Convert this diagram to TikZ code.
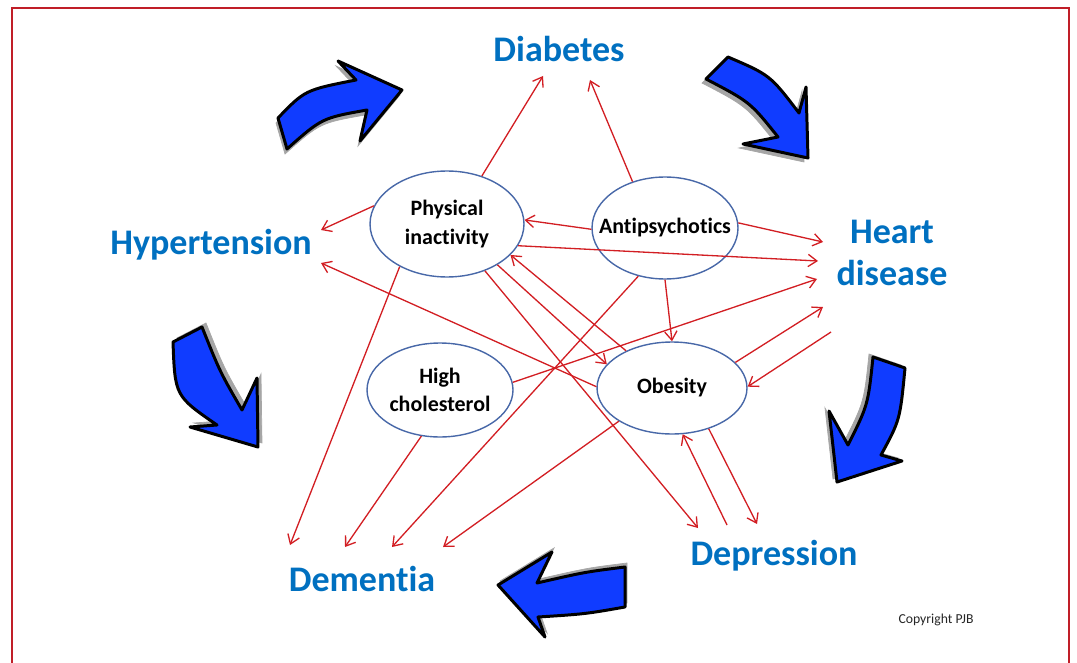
\documentclass[tikz,border=0pt]{standalone}
\usepackage{fontspec}
\setmainfont{Carlito}[Ligatures=NoCommon]
\usepackage{tikz}
\usetikzlibrary{arrows.meta}
\usetikzlibrary{shapes}
\usetikzlibrary{calc}
\definecolor{labelblue}{RGB}{0,112,192}
\definecolor{linkred}{RGB}{210,30,35}
\definecolor{ringblue}{RGB}{72,104,168}
\definecolor{bigblue}{RGB}{16,60,255}
\definecolor{framered}{RGB}{192,30,40}

\begin{document}
\begin{tikzpicture}[x=0.02cm, y=-0.02cm,
    outcome/.style={text=labelblue, font=\bfseries\fontsize{20.5}{24}\selectfont, inner sep=0pt},
    factor/.style={ellipse, draw=ringblue, line width=0.8pt, font=\bfseries\fontsize{12.5}{16}\selectfont, align=center, inner sep=0pt},
    link/.style={draw=linkred, line width=0.75pt, -{Straight Barb[length=5pt,width=7pt]}},
    bigarrow/.style={fill=bigblue, draw=black, line width=1.7pt, line join=round,
      preaction={fill=black!35, draw=black!35, transform canvas={shift={#1}}}}]
              \useasboundingbox (0,0) rectangle (1077,662);
              \draw[framered, line width=0.8pt] (12,8) rectangle (1069,690);
              \node[outcome, anchor=base] (diab) at (559,62) {Diabetes};
              \node[outcome, anchor=base] (hyper) at (211,254) {Hypertension};
              \node[outcome, align=center] (heart) at (892,253) {Heart\\disease};
              \node[outcome, anchor=base] (depr) at (774,565) {Depression};
              \node[outcome, anchor=base] (dem) at (362,591) {Dementia};
              \node[anchor=base, font=\fontsize{7.8}{9}\selectfont, text=black!85] (copy) at (936,623) {Copyright PJB};
              \node[factor, minimum width=3.08cm, minimum height=2.12cm] (pi) at (447,224) {Physical\\inactivity};
              \node[factor, minimum width=2.92cm, minimum height=2.04cm] (ap) at (665,228) {\makebox[0pt]{Antipsychotics}};
              \node[factor, minimum width=2.92cm, minimum height=1.88cm] (hc) at (440,390) {High\\cholesterol};
              \node[factor, minimum width=3.0cm, minimum height=1.84cm] (ob) at (672,388) {Obesity};
              \draw[link] (pi.54) -- ($(diab.base)+(-16,14)$);
              \draw[link] (pi.166) -- ($(hyper.base)+(110,-24)$);
              \draw[link] (pi.-17) -- ($(heart)+(-74,8)$);
              \draw[link] (pi.-138) -- ($(dem.base)+(-72,-46)$);
              \draw[link] (pi.-51) -- ($(depr.base)+(-76,-37)$);
              \draw[link] (pi.-39) -- (ob.160);
              \draw[link] (ob.141) -- (pi.-26);
              \draw[link] (ap.125) -- ($(diab.base)+(31,18)$);
              \draw[link] (ap.181) -- (pi.3);
              \draw[link] (ap.4) -- ($(heart)+(-69,-11)$);
              \draw[link] (ap.south) -- (ob.north);
              \draw[link] (ap.-119) -- ($(dem.base)+(30,-44)$);
              \draw[link] (hc.6) -- ($(heart)+(-75,26)$);
              \draw[link] (hc.-112) -- ($(dem.base)+(-17,-44)$);
              \draw[link] (ob.179) -- ($(hyper.base)+(110,9)$);
              \draw[link] (ob.22) -- ($(heart)+(-69,54)$);
              \draw[link] ($(heart)+(-61,79)$) -- (ob.1);
              \draw[link] (ob.-148) -- ($(dem.base)+(81,-44)$);
              \draw[link] ($(depr.base)+(-47,-40)$) -- (ob.-77);
              \draw[link] (ob.-48) -- ($(depr.base)+(-17,-41)$);
              \draw[bigarrow={(-2,5)}] (278,118) .. controls (305,90) .. (356,80) -- (338,61) -- (402,90) -- (360,141) -- (367,110) .. controls (322,118) .. (287,149) -- cycle;
              \draw[bigarrow={(-4,4)}] (728,57) .. controls (770,75) .. (799,113) -- (806,87) -- (808,158) -- (743,144) -- (778,137) .. controls (750,102) .. (706,79) -- cycle;
              \draw[bigarrow={(-4,-3)}] (905,368) .. controls (900,420) .. (881,455) -- (902,461) -- (837,482) -- (829,411) -- (848,445) .. controls (868,405) .. (873,357) -- cycle;
              \draw[bigarrow={(2,-4)}] (625,567) .. controls (585,572) .. (537,583) -- (552,552) -- (498,585) -- (545,637) -- (538,617) .. controls (585,614) .. (625,607) -- cycle;
              \draw[bigarrow={(4,-4)}] (202,327) .. controls (220,372) .. (242,410) -- (257,378) -- (258,447) -- (190,427) -- (217,425) .. controls (175,396) .. (173,342) -- cycle;
            \end{tikzpicture}
\end{document}
